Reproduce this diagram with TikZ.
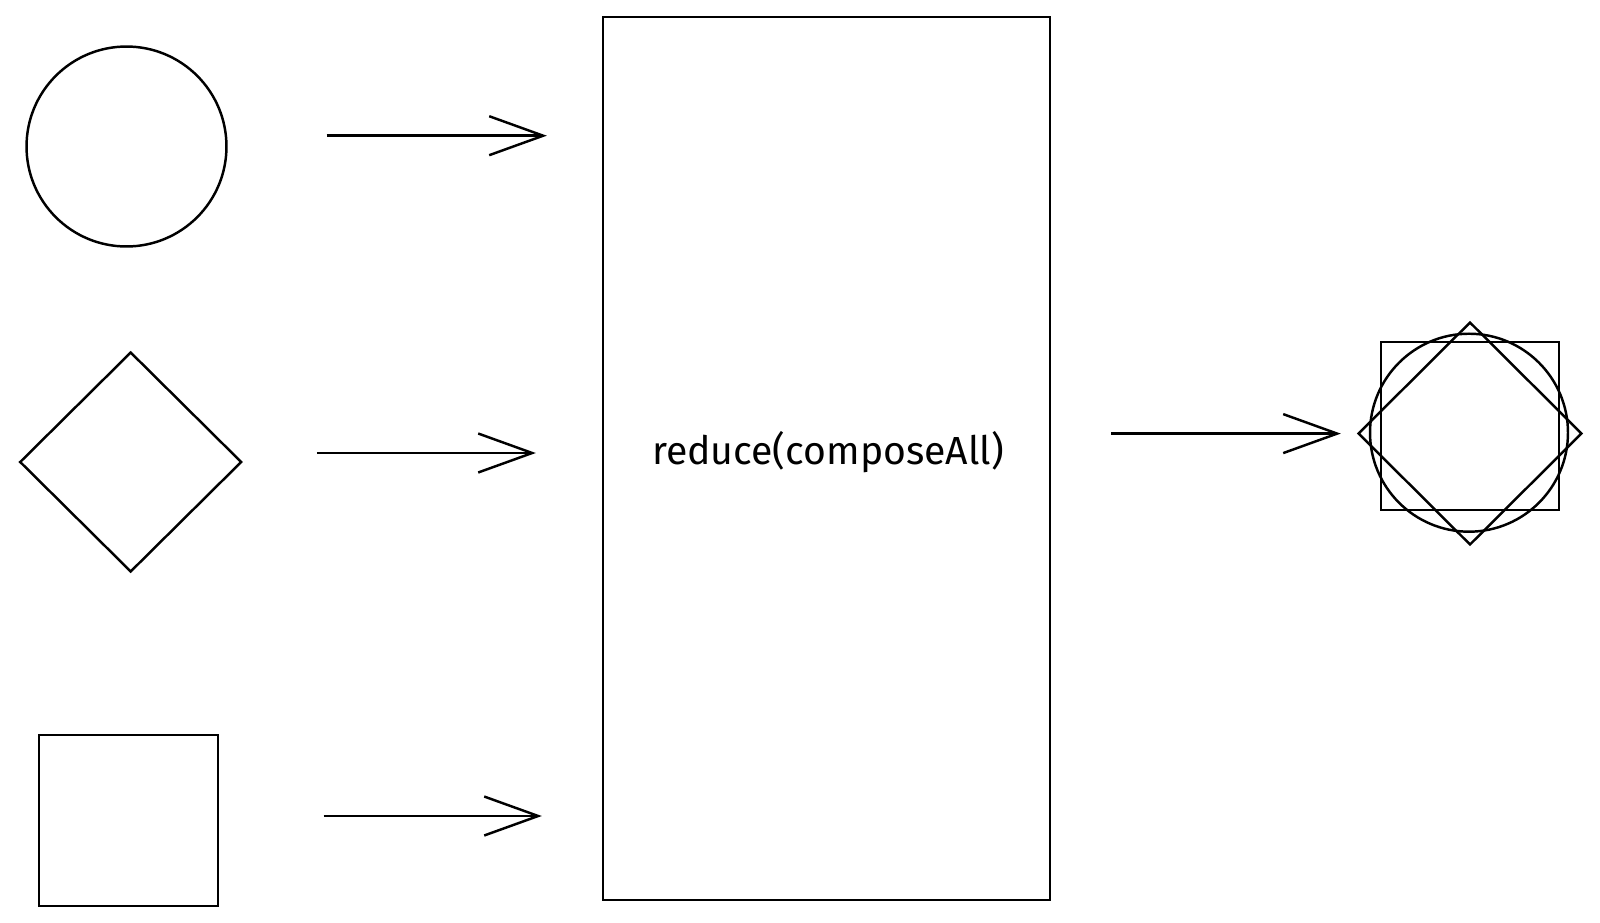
\documentclass[tikz,border=0pt]{standalone}
\usepackage{fontspec}
\setmainfont{Fira Sans}
\usetikzlibrary{arrows.meta,shapes.geometric}

\begin{document}
\begin{tikzpicture}[x=0.02cm,y=-0.02cm,
  shape line/.style={draw,line width=1.4pt,inner sep=0pt},
  flow/.style={line width=1.4pt,-{Straight Barb[length=1.08cm,width=0.78cm,line width=1.4pt]}}]
  \useasboundingbox (0,0) rectangle (1600,923);

  % inputs
  \node[shape line,circle,minimum size=4cm] (in1) at (126.5,146.5) {};
  \node[shape line,diamond,minimum width=4.44cm,minimum height=4.4cm] (in2) at (130.7,462) {};
  \node[shape line,rectangle,minimum width=3.58cm,minimum height=3.42cm] (in3) at (128.5,820.5) {};

  % reducer
  \node[shape line,rectangle,minimum width=8.94cm,minimum height=17.66cm] (box) at (826.5,458.5) {};
  \node[font=\fontsize{22.3}{26}\selectfont] (label) at (828,452) {reduce(composeAll)};

  % result
  \node[shape line,circle,minimum size=3.96cm] (out1) at (1469,432.7) {};
  \node[shape line,rectangle,minimum width=3.56cm,minimum height=3.36cm] (out3) at (1470,426) {};
  \node[shape line,diamond,minimum width=4.48cm,minimum height=4.46cm] (out2) at (1470,433.5) {};

  \coordinate (y1) at (0,135.7);
  \coordinate (y2) at (0,453);
  \coordinate (y3) at (0,816);
  \coordinate (y4) at (0,433.6);

  \draw[flow,shorten <=1.98cm,shorten >=1.1cm] (in1.east |- y1) -- (box.west |- y1);
  \draw[flow,shorten <=1.48cm,shorten >=1.32cm] (in2.east |- y2) -- (box.west |- y2);
  \draw[flow,shorten <=2.09cm,shorten >=1.2cm] (in3.east |- y3) -- (box.west |- y3);
  \draw[flow,shorten <=1.2cm,shorten >=0.32cm] (box.east |- y4) -- (out2.west |- y4);
\end{tikzpicture}
\end{document}
